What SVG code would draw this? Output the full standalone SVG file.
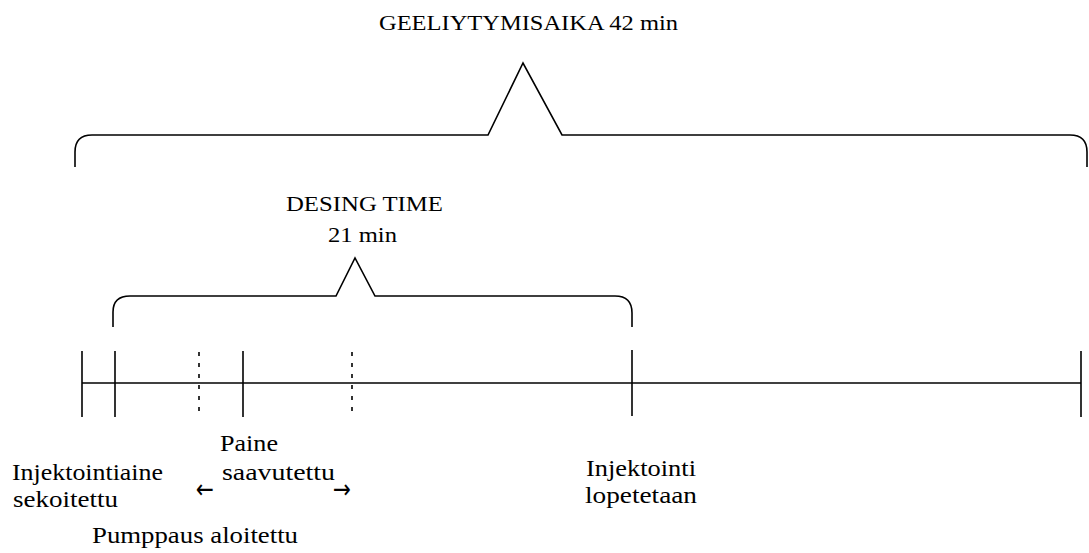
<svg xmlns="http://www.w3.org/2000/svg" width="1089" height="553" viewBox="0 0 1089 553">
<style>
.ln{fill:none;stroke:#000;stroke-width:1.6;stroke-linejoin:miter}
.dash{fill:none;stroke:#000;stroke-width:1.6;stroke-dasharray:4 7}
text{font-family:"Liberation Serif","Times New Roman",serif;fill:#000}
.hd{font-size:21px}
.lb{font-size:23px}
.ar{font-family:"DejaVu Sans","Liberation Sans",sans-serif;font-size:26px}
</style>
<rect width="1089" height="553" fill="#fff"/>
<g id="connectors">
<path id="brace-geeliytymisaika" class="ln" d="M75,167 L75,152 Q75,135 92,135 L488,135 L523,63 L562,135 L1070,135 Q1087,135 1087,152 L1087,167"/>
<path id="brace-desing" class="ln" d="M113,327 L113,312 Q113,296 130,296 L336,296 L355,258 L375,296 L615,296 Q632,296 632,313 L632,327"/>
<line id="timeline" class="ln" x1="82" y1="383" x2="1081" y2="383"/>
</g>
<g id="tick-start"><line class="ln" x1="82" y1="351" x2="82" y2="417"/></g>
<g id="tick-sekoitettu"><line class="ln" x1="115" y1="351" x2="115" y2="417"/></g>
<g id="tick-pumppaus"><line class="dash" x1="199" y1="352" x2="199" y2="417"/></g>
<g id="tick-paine"><line class="ln" x1="243" y1="351" x2="243" y2="417"/></g>
<g id="tick-pumppaus-end"><line class="dash" x1="352" y1="352" x2="352" y2="417"/></g>
<g id="tick-lopetetaan"><line class="ln" x1="632" y1="350" x2="632" y2="416"/></g>
<g id="tick-end"><line class="ln" x1="1081" y1="351" x2="1081" y2="417"/></g>
<g id="label-geeliytymisaika"><text class="hd" x="379" y="30" textLength="299" lengthAdjust="spacingAndGlyphs">GEELIYTYMISAIKA 42 min</text></g>
<g id="label-desing">
<text class="hd" x="286" y="211" textLength="157" lengthAdjust="spacingAndGlyphs">DESING TIME</text>
<text class="hd" x="328" y="242" textLength="69" lengthAdjust="spacingAndGlyphs">21 min</text>
</g>
<g id="label-injektointiaine">
<text class="lb" x="12" y="480" textLength="151" lengthAdjust="spacingAndGlyphs">Injektointiaine</text>
<text class="lb" x="13" y="507" textLength="105" lengthAdjust="spacingAndGlyphs">sekoitettu</text>
</g>
<g id="label-paine">
<text class="lb" x="220" y="451" textLength="58" lengthAdjust="spacingAndGlyphs">Paine</text>
<text class="lb" x="222" y="480" textLength="113" lengthAdjust="spacingAndGlyphs">saavutettu</text>
<text class="ar" x="196" y="498" textLength="18" lengthAdjust="spacingAndGlyphs">←</text>
<text class="ar" x="333" y="498" textLength="18" lengthAdjust="spacingAndGlyphs">→</text>
</g>
<g id="label-pumppaus"><text class="lb" x="92" y="543" textLength="206" lengthAdjust="spacingAndGlyphs">Pumppaus aloitettu</text></g>
<g id="label-injektointi">
<text class="lb" x="586" y="476" textLength="110" lengthAdjust="spacingAndGlyphs">Injektointi</text>
<text class="lb" x="585" y="503" textLength="112" lengthAdjust="spacingAndGlyphs">lopetetaan</text>
</g>
</svg>
